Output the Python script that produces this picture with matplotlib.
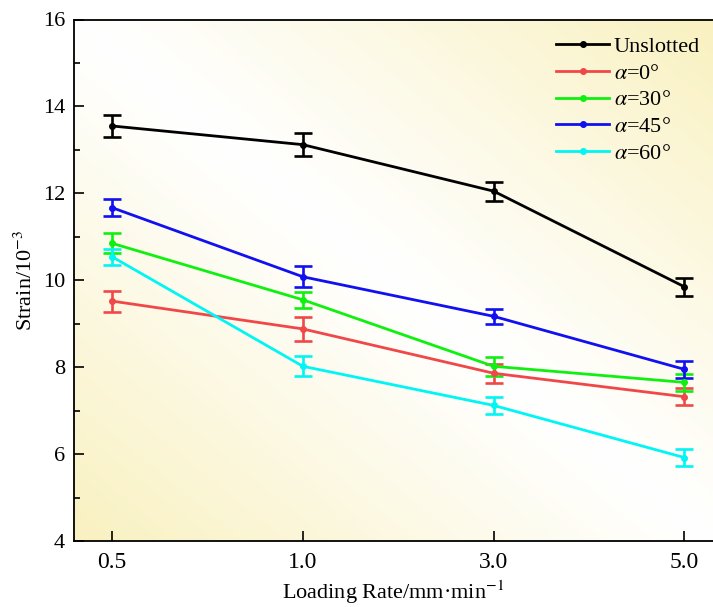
import numpy as np
import matplotlib
matplotlib.use("Agg")
import matplotlib.pyplot as plt
from matplotlib.lines import Line2D

plt.rcParams['font.family'] = ['Liberation Serif', 'DejaVu Serif']
plt.rcParams['mathtext.fontset'] = 'stix'

categories = ['0.5', '1.0', '3.0', '5.0']
series_names = ['Unslotted', r'$\alpha$=0°', r'$\alpha$=30°', r'$\alpha$=45°', r'$\alpha$=60°']
unslotted = [13.55, 13.12, 12.05, 9.85]
alpha0 = [9.52, 8.88, 7.86, 7.32]
alpha30 = [10.85, 9.55, 8.02, 7.65]
alpha45 = [11.67, 10.08, 9.17, 7.95]
alpha60 = [10.54, 8.02, 7.12, 5.92]
err_unslotted = [0.25, 0.26, 0.22, 0.21]
err_alpha0 = [0.24, 0.27, 0.22, 0.20]
err_alpha30 = [0.23, 0.18, 0.22, 0.20]
err_alpha45 = [0.19, 0.24, 0.17, 0.20]
err_alpha60 = [0.18, 0.23, 0.20, 0.20]
colors = ['#000000', '#F04848', '#10F010', '#1010F0', '#00F5F5']

values = [unslotted, alpha0, alpha30, alpha45, alpha60]
errors = [err_unslotted, err_alpha0, err_alpha30, err_alpha45, err_alpha60]

W, H = 713, 607
fig = plt.figure(figsize=(W/100, H/100), dpi=100)
ax_left, ax_right, ax_top, ax_bottom = 74, 713, 19.5, 541
ax = fig.add_axes([ax_left/W, (H-ax_bottom)/H, (ax_right-ax_left)/W, (ax_bottom-ax_top)/H])

# gradient background
n = 300
u, v = np.meshgrid(np.linspace(0, 1, n), np.linspace(0, 1, n))
t = np.abs(u + v - 1.0)
t = np.clip(t, 0, 1) ** 1.1
yellow = np.array([249, 241, 192]) / 255.0
white = np.array([1.0, 1.0, 1.0])
img = white[None, None, :] * (1 - t[..., None]) + yellow[None, None, :] * t[..., None]
ax.imshow(img, extent=[0, 1, 0, 1], transform=ax.transAxes, origin='lower',
          aspect='auto', zorder=0, interpolation='bilinear')

x = np.arange(len(categories))
handles = []
for name, vals, errs, c in zip(series_names, values, errors, colors):
    ax.errorbar(x, vals, yerr=errs, color=c, lw=2.0, marker='o', ms=4,
                mfc=c, mec=c, capsize=6.5, capthick=1.9, elinewidth=1.9,
                zorder=3)
    handles.append(Line2D([], [], color=c, lw=2.0, marker='o', ms=4, mfc=c, mec=c, label=name))

ax.set_xlim(-0.2, 3.15)
ax.set_ylim(4, 16)
ax.set_xticks(x)
ax.set_xticklabels(categories)
ax.set_yticks(np.arange(4, 17, 2))
ax.set_yticks(np.arange(5, 16, 2), minor=True)
ax.tick_params(axis='both', which='major', direction='in', length=7, width=1.2)
ax.tick_params(axis='y', which='major', labelsize=16, pad=6.5)
ax.tick_params(axis='x', which='major', labelsize=17, pad=8)
ax.tick_params(axis='y', which='minor', direction='in', length=4, width=1.2)
ax.tick_params(top=False, right=False)
ax.spines['right'].set_visible(False)
for s in ['left', 'bottom', 'top']:
    ax.spines[s].set_linewidth(1.3)

ax.set_xlabel('Loading Rate/mm·min$^{-1}$', fontsize=16, labelpad=4)
ax.set_ylabel('Strain/10$^{-3}$', fontsize=16, labelpad=4)

leg = ax.legend(handles=handles, loc='upper left', bbox_to_anchor=(0.755, 0.968), frameon=False,
                fontsize=16, handlelength=2.35, handletextpad=0.22,
                labelspacing=0.28, borderaxespad=0, borderpad=0)

fig.savefig('out.png', dpi=100)
